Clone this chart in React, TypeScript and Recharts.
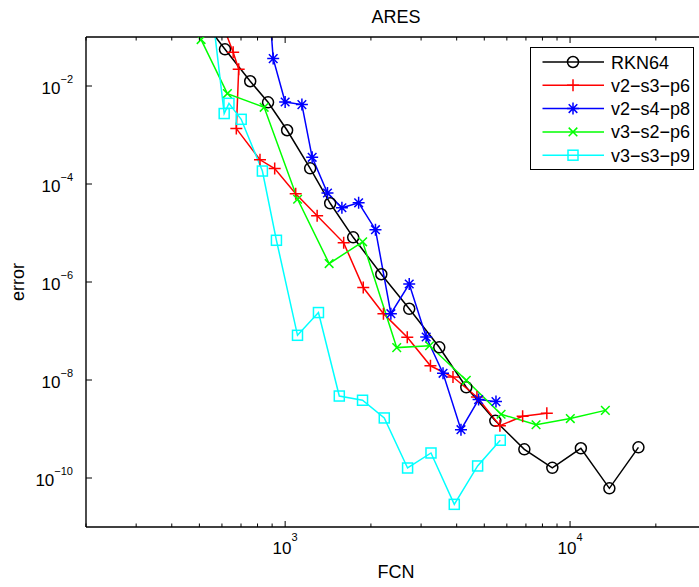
import React from 'react';
import { LineChart, Line, XAxis, YAxis, Legend } from 'recharts';

// FCN / error pairs
const rknFcn = [500, 615, 754, 871, 1016, 1224, 1439, 1733, 2175, 2726, 3475, 4323, 5466, 6911, 8665, 10913, 13740, 17378];
const rknErr = [0.27, 0.0561, 0.0125, 0.00465, 0.00125, 2.09e-4, 4.04e-5, 8.17e-6, 1.44e-6, 2.84e-7, 4.65e-8, 7.1e-9, 1.47e-9, 3.85e-10, 1.61e-10, 4.04e-10, 6.16e-11, 4.23e-10];

const v2s3Fcn = [586, 657, 687, 674, 816, 919, 1089, 1295, 1605, 1880, 2213, 2683, 3236, 3882, 4711, 5673, 6816, 8288];
const v2s3Err = [0.28, 0.0488, 0.0219, 1.35e-3, 3.12e-4, 2.06e-4, 6.3e-5, 2.25e-5, 6.3e-6, 7.7e-7, 2.26e-7, 7.43e-8, 1.95e-8, 1.15e-8, 4.5e-9, 1.17e-9, 1.82e-9, 2.09e-9];

const v2s4Fcn = [879, 908, 1000, 1145, 1244, 1408, 1582, 1811, 2075, 2350, 2726, 3126, 3582, 4141, 4775, 5495];
const v2s4Err = [0.44, 0.0362, 4.72e-3, 4.17e-3, 3.5e-4, 6.55e-5, 3.27e-5, 4.13e-5, 1.17e-5, 2.26e-7, 9.1e-7, 7.55e-8, 1.37e-8, 9.7e-10, 3.98e-9, 3.62e-9];

const v3s2Fcn = [507, 627, 844, 1106, 1427, 1871, 2464, 3213, 4323, 5727, 7597, 10020, 13300];
const v3s2Err = [0.0885, 7.0e-3, 3.67e-3, 4.88e-5, 2.38e-6, 6.6e-6, 4.58e-8, 4.99e-8, 9.86e-9, 2.0e-9, 1.22e-9, 1.63e-9, 2.4e-9];

const v3s3Fcn = [555, 611, 635, 701, 832, 932, 1105, 1309, 1549, 1869, 2228, 2690, 3250, 3923, 4738, 5689];
const v3s3Err = [0.319, 2.74e-3, 4.43e-3, 2.09e-3, 1.84e-4, 7.1e-6, 8.17e-8, 2.38e-7, 4.71e-9, 3.86e-9, 1.68e-9, 1.6e-10, 3.24e-10, 2.9e-11, 1.76e-10, 5.9e-10];

const xTicks = [200, 300, 400, 500, 600, 700, 800, 900, 1000, 2000, 3000, 4000, 5000, 6000, 7000, 8000, 9000, 10000, 20000];
const yTicks = [1e-10, 1e-8, 1e-6, 1e-4, 1e-2];

const FONT = '"Liberation Sans", Arial, Helvetica, sans-serif';

const zip = (xs: number[], ys: number[]) => xs.map((x, i) => ({ x, y: ys[i] }));

type MarkerKind = 'circle' | 'plus' | 'star' | 'cross' | 'square';

const series = [
  { name: 'RKN64', color: '#000000', marker: 'circle' as MarkerKind, data: zip(rknFcn, rknErr) },
  { name: 'v2\u2212s3\u2212p6', color: '#ff0000', marker: 'plus' as MarkerKind, data: zip(v2s3Fcn, v2s3Err) },
  { name: 'v2\u2212s4\u2212p8', color: '#0000ff', marker: 'star' as MarkerKind, data: zip(v2s4Fcn, v2s4Err) },
  { name: 'v3\u2212s2\u2212p6', color: '#00ff00', marker: 'cross' as MarkerKind, data: zip(v3s2Fcn, v3s2Err) },
  { name: 'v3\u2212s3\u2212p9', color: '#00ffff', marker: 'square' as MarkerKind, data: zip(v3s3Fcn, v3s3Err) },
];

const Marker = ({ kind, cx, cy, color }: { kind: MarkerKind; cx: number; cy: number; color: string }) => {
  const sw = 1.5;
  if (kind === 'circle') return <circle cx={cx} cy={cy} r={5.5} fill="none" stroke={color} strokeWidth={sw} />;
  if (kind === 'square') return <rect x={cx - 5} y={cy - 5} width={10} height={10} fill="none" stroke={color} strokeWidth={sw} />;
  const p = 6;
  const d = 4.3;
  const plus = `M${cx - p},${cy}H${cx + p}M${cx},${cy - p}V${cy + p}`;
  const cross = `M${cx - d},${cy - d}L${cx + d},${cy + d}M${cx - d},${cy + d}L${cx + d},${cy - d}`;
  let path = plus;
  if (kind === 'cross') path = cross;
  if (kind === 'star') path = plus + cross;
  return <path d={path} fill="none" stroke={color} strokeWidth={sw} />;
};

const isDecade = (v: number) => Math.abs(Math.log10(v) - Math.round(Math.log10(v))) < 1e-9;

const XTickBottom = (props: any) => {
  const { x, y, payload } = props;
  const major = isDecade(payload.value);
  const exp = Math.round(Math.log10(payload.value));
  return (
    <g>
      <line x1={x} y1={y} x2={x} y2={y - (major ? 6 : 3.5)} stroke="#000" strokeWidth={1} />
      {major && (
        <text x={x} y={y + 27} textAnchor="middle" fontFamily={FONT} fontSize={17} fill="#000">
          10<tspan dy={-13} fontSize={11}>{exp}</tspan>
        </text>
      )}
    </g>
  );
};

const XTickTop = (props: any) => {
  const { x, y, payload } = props;
  const major = isDecade(payload.value);
  return <line x1={x} y1={y} x2={x} y2={y + (major ? 6 : 3.5)} stroke="#000" strokeWidth={1} />;
};

const YTick = (props: any) => {
  const { x, y, payload } = props;
  const exp = Math.round(Math.log10(payload.value));
  return (
    <g>
      <line x1={x} y1={y} x2={x + 6} y2={y} stroke="#000" strokeWidth={1} />
      <text x={x - 13} y={y + 7.5} textAnchor="end" fontFamily={FONT} fontSize={17} fill="#000">
        10<tspan dy={-11} fontSize={11}>{'\u2212' + Math.abs(exp)}</tspan>
      </text>
    </g>
  );
};

const TitleLabel = ({ viewBox }: any) => (
  <text x={viewBox.x + viewBox.width / 2} y={viewBox.y - 13.5} textAnchor="middle" fontFamily={FONT} fontSize={18} fill="#000">
    ARES
  </text>
);

const FcnLabel = ({ viewBox }: any) => (
  <text x={viewBox.x + viewBox.width / 2} y={viewBox.y + 51} textAnchor="middle" fontFamily={FONT} fontSize={18} fill="#000">
    FCN
  </text>
);

const ErrorLabel = ({ viewBox }: any) => (
  <text
    transform={`translate(${viewBox.x - 2}, ${viewBox.y + viewBox.height / 2}) rotate(-90)`}
    textAnchor="middle"
    fontFamily={FONT}
    fontSize={18}
    fill="#000"
  >
    error
  </text>
);

const LegendBox = () => (
  <svg width={165} height={124} style={{ display: 'block' }}>
    <rect x={0.5} y={0.5} width={163} height={122} fill="#fff" stroke="#000" strokeWidth={1} />
    {series.map((s, i) => {
      const cy = 15 + i * 23.3;
      return (
        <g key={s.name}>
          <line x1={12.5} y1={cy} x2={74} y2={cy} stroke={s.color} strokeWidth={1.5} />
          <Marker kind={s.marker} cx={43} cy={cy} color={s.color} />
          <text x={81} y={cy + 6.5} fontFamily={FONT} fontSize={18} fill="#000">
            {s.name}
          </text>
        </g>
      );
    })}
  </svg>
);

const App: React.FC = () => {
  return (
    <div style={{ position: 'absolute', left: 0, top: 0, width: 699, height: 587, overflow: 'hidden', background: '#fff' }}>
      <LineChart width={720} height={587} margin={{ top: 36, right: 14, bottom: 5, left: 26 }}>
        <XAxis
          xAxisId="bottom"
          dataKey="x"
          type="number"
          scale="log"
          domain={[200, 30000]}
          allowDataOverflow
          ticks={xTicks}
          interval={0}
          height={55}
          tickSize={0}
          tickMargin={0}
          tickLine={false}
          axisLine={{ stroke: '#000', strokeWidth: 1.4 }}
          tick={<XTickBottom />}
          label={<FcnLabel />}
        />
        <XAxis
          xAxisId="top"
          orientation="top"
          dataKey="x"
          type="number"
          scale="log"
          domain={[200, 30000]}
          allowDataOverflow
          ticks={xTicks}
          interval={0}
          height={1}
          tickSize={0}
          tickMargin={0}
          tickLine={false}
          axisLine={{ stroke: '#000', strokeWidth: 1.4 }}
          tick={<XTickTop />}
          label={<TitleLabel />}
        />
        <YAxis
          dataKey="y"
          type="number"
          scale="log"
          domain={[1e-11, 1e-1]}
          allowDataOverflow
          ticks={yTicks}
          interval={0}
          width={60}
          tickSize={0}
          tickMargin={0}
          tickLine={false}
          axisLine={{ stroke: '#000', strokeWidth: 1.4 }}
          tick={<YTick />}
          label={<ErrorLabel />}
        />
        <Legend
          layout="vertical"
          align="center"
          verticalAlign="middle"
          wrapperStyle={{ left: 530, top: 47, width: 165, height: 124 }}
          content={() => <LegendBox />}
        />
        {series.map((s) => (
          <Line
            key={s.name}
            xAxisId="bottom"
            data={s.data}
            dataKey="y"
            type="linear"
            stroke={s.color}
            strokeWidth={1.5}
            isAnimationActive={false}
            activeDot={false}
            dot={(p: any) => <Marker key={`${s.name}-${p.index}`} kind={s.marker} cx={p.cx} cy={p.cy} color={s.color} />}
          />
        ))}
      </LineChart>
    </div>
  );
};

export default App;
